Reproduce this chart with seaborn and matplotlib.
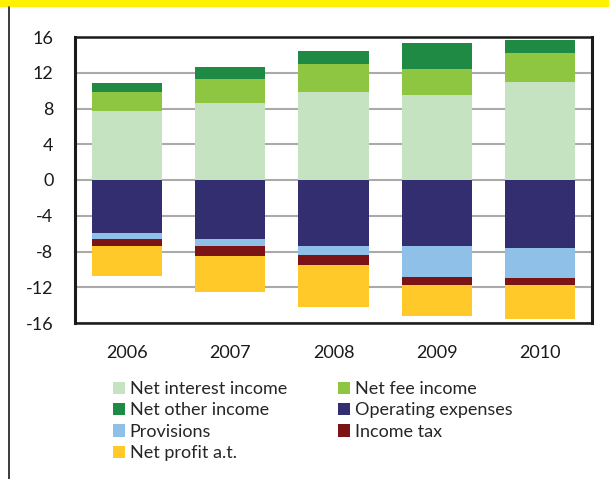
import numpy as np
import pandas as pd
import matplotlib
matplotlib.use("Agg")
import matplotlib.pyplot as plt
from matplotlib.patches import Patch
from matplotlib.lines import Line2D
import seaborn as sns

years = ["2006", "2007", "2008", "2009", "2010"]

# income side (positive)
net_interest_income = [7.67, 8.67, 9.89, 9.56, 11.00]
net_fee_income = [2.22, 2.67, 3.11, 2.89, 3.22]
net_other_income = [1.00, 1.33, 1.44, 2.89, 1.44]

# cost and profit side (drawn below zero)
operating_expenses = [5.89, 6.56, 7.33, 7.44, 7.56]
provisions = [0.67, 0.78, 1.11, 3.44, 3.44]
income_tax = [0.78, 1.11, 1.11, 0.89, 0.78]
net_profit_at = [3.44, 4.11, 4.67, 3.44, 3.78]

colors = {
    "Net interest income": "#c5e3c0",
    "Net fee income": "#8fc641",
    "Net other income": "#1e8a44",
    "Operating expenses": "#322e6f",
    "Provisions": "#8fc0e8",
    "Income tax": "#7c1416",
    "Net profit a.t.": "#ffca29",
}

yticks = [16, 12, 8, 4, 0, -4, -8, -12, -16]

sns.set_style("white")
plt.rcParams["font.family"] = ["Lato", "DejaVu Sans"]

fig = plt.figure(figsize=(6.09, 4.79), dpi=100)
ax = fig.add_axes([75 / 609, 1 - 323 / 479, (592 - 75) / 609, (323 - 37) / 479])

# stacked bars: draw cumulative totals from the outermost segment inwards
pos_layers = [("Net other income", [net_interest_income, net_fee_income, net_other_income]),
              ("Net fee income", [net_interest_income, net_fee_income]),
              ("Net interest income", [net_interest_income])]
neg_layers = [("Net profit a.t.", [operating_expenses, provisions, income_tax, net_profit_at]),
              ("Income tax", [operating_expenses, provisions, income_tax]),
              ("Provisions", [operating_expenses, provisions]),
              ("Operating expenses", [operating_expenses])]

for name, parts in pos_layers + neg_layers:
    sign = 1 if name in ("Net other income", "Net fee income", "Net interest income") else -1
    tot = sign * np.sum(parts, axis=0)
    df = pd.DataFrame({"year": years, "value": tot})
    sns.barplot(data=df, x="year", y="value", color=colors[name], saturation=1,
                width=0.68, linewidth=0, ax=ax, zorder=3)

ax.set_ylim(-16, 16)
ax.set_xlim(-0.5, 4.5)
ax.set_yticks(yticks)
ax.set_yticklabels([str(v) for v in yticks])
ax.set_xlabel("")
ax.set_ylabel("")
ax.yaxis.grid(True, color="#aaaaaa", linewidth=1.5, zorder=0)
ax.set_axisbelow(True)

# category separators on the x axis
ax.set_xticks(np.arange(-0.5, 5.0, 1.0), minor=True)
ax.tick_params(axis="x", which="major", length=0, pad=16, labelsize=13, labelcolor="#1a1a1a")
ax.tick_params(axis="x", which="minor", length=5, width=1.5, color="#1a1a1a", direction="out")
ax.tick_params(axis="y", which="major", length=5, width=1.5, color="#333333",
               direction="out", pad=10.5, labelsize=13, labelcolor="#1a1a1a")

for side in ["left", "right", "top", "bottom"]:
    ax.spines[side].set_visible(True)
    ax.spines[side].set_color("#1a1a1a")
ax.spines["left"].set_linewidth(2.2)
ax.spines["right"].set_linewidth(2.2)
ax.spines["top"].set_linewidth(1.8)
ax.spines["bottom"].set_linewidth(1.8)

# legend, row-major in two columns
order = ["Net interest income", "Net other income", "Provisions", "Net profit a.t.",
         "Net fee income", "Operating expenses", "Income tax"]
handles = [Patch(facecolor=colors[n], edgecolor="none", label=n) for n in order]
fig.legend(handles=handles, ncol=2, loc="upper left",
           bbox_to_anchor=(113 / 609, 1 - 381 / 479), frameon=False,
           fontsize=13, handlelength=0.67, handleheight=0.67, handletextpad=0.25,
           labelspacing=0.3, columnspacing=2.85, borderpad=0, borderaxespad=0)

# page decorations: yellow header band and left frame line
fig.patches.append(plt.Rectangle((0, 1 - 7 / 479), 1, 7 / 479, transform=fig.transFigure,
                                 facecolor="#fff200", edgecolor="none"))
fig.add_artist(Line2D([9 / 609, 9 / 609], [0, 1 - 7 / 479], transform=fig.transFigure,
                      color="#1a1a1a", linewidth=1.2))

fig.savefig("out.png", dpi=100)
